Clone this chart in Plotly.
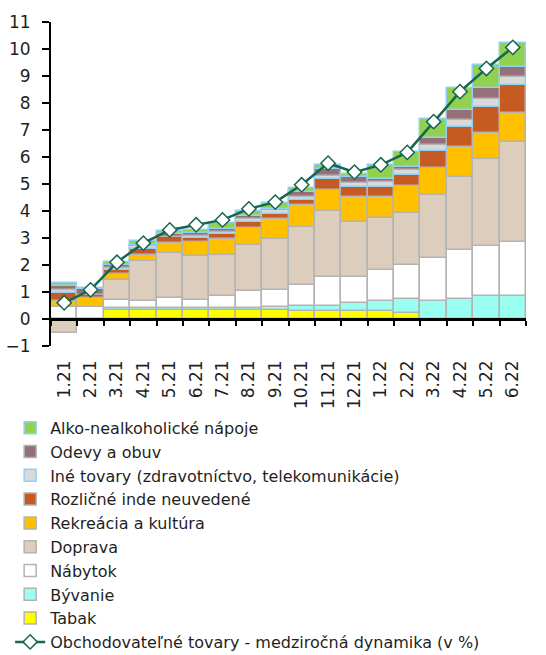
import plotly.graph_objects as go

categories = ["1.21", "2.21", "3.21", "4.21", "5.21", "6.21", "7.21", "8.21", "9.21",
              "10.21", "11.21", "12.21", "1.22", "2.22", "3.22", "4.22", "5.22", "6.22"]

tabak     = [0.00, 0.00, 0.35, 0.35, 0.35, 0.35, 0.35, 0.35, 0.35, 0.30, 0.30, 0.30, 0.30, 0.22, 0.00, 0.00, 0.00, 0.00]
byvanie   = [0.00, 0.00, 0.05, 0.05, 0.05, 0.07, 0.07, 0.07, 0.10, 0.17, 0.20, 0.28, 0.35, 0.52, 0.68, 0.74, 0.86, 0.86]
nabytok   = [0.44, 0.45, 0.30, 0.25, 0.37, 0.30, 0.43, 0.62, 0.64, 0.78, 1.05, 0.99, 1.17, 1.27, 1.58, 1.82, 1.86, 1.99]
doprava   = [-0.50, 0.00, 0.76, 1.48, 1.66, 1.60, 1.52, 1.70, 1.89, 2.16, 2.44, 2.01, 1.91, 1.91, 2.32, 2.69, 3.19, 3.69]
rekreacia = [0.21, 0.33, 0.22, 0.25, 0.37, 0.55, 0.59, 0.64, 0.74, 0.83, 0.79, 0.95, 0.78, 1.01, 1.01, 1.13, 0.99, 1.09]
rozlicne  = [0.31, 0.12, 0.12, 0.21, 0.25, 0.12, 0.18, 0.22, 0.18, 0.18, 0.41, 0.37, 0.39, 0.41, 0.62, 0.72, 0.94, 1.05]
ine       = [0.12, -0.06, 0.10, 0.10, -0.06, 0.10, 0.10, 0.12, 0.12, 0.10, 0.12, 0.15, 0.18, 0.18, 0.25, 0.27, 0.31, 0.28]
odevy     = [0.16, 0.20, 0.10, 0.06, 0.08, 0.10, 0.10, 0.08, 0.06, 0.18, 0.25, 0.22, 0.12, 0.12, 0.25, 0.37, 0.39, 0.37]
alko      = [0.10, 0.05, 0.10, 0.15, 0.12, 0.10, 0.20, 0.20, 0.20, 0.16, 0.15, 0.10, 0.49, 0.55, 0.68, 0.80, 0.86, 0.89]
dynamika  = [0.60, 1.08, 2.10, 2.81, 3.30, 3.49, 3.67, 4.08, 4.33, 4.97, 5.77, 5.44, 5.71, 6.17, 7.31, 8.42, 9.28, 10.06]

y_ticks = list(range(-1, 12))

FONT = "DejaVu Sans"
GRAY = "#b3b3b3"
LBLUE = "#8fd2f4"

series = [
    ("Tabak", tabak, "#ffff00", GRAY, 9),
    ("Bývanie", byvanie, "#99fff0", GRAY, 8),
    ("Nábytok", nabytok, "#ffffff", GRAY, 7),
    ("Doprava", doprava, "#dccdbd", GRAY, 6),
    ("Rekreácia a kultúra", rekreacia, "#ffc000", GRAY, 5),
    ("Rozličné inde neuvedené", rozlicne, "#c55a22", GRAY, 4),
    ("Iné tovary (zdravotníctvo, telekomunikácie)", ine, "#d9d9d9", LBLUE, 3),
    ("Odevy a obuv", odevy, "#957079", GRAY, 2),
    ("Alko-nealkoholické nápoje", alko, "#92d050", LBLUE, 1),
]

fig = go.Figure()
for name, vals, color, lc, rank in series:
    fig.add_trace(go.Bar(
        x=categories, y=vals, name=name, legendrank=rank,
        marker=dict(color=color, line=dict(color=lc, width=1.5)),
    ))

fig.add_trace(go.Scatter(
    x=categories, y=dynamika, name="Obchodovateľné tovary - medziročná dynamika (v %)",
    legendrank=10, xaxis="x2", mode="lines+markers",
    line=dict(color="#17664f", width=2.5),
    marker=dict(symbol="diamond", size=11, color="white", line=dict(color="#17664f", width=1.5)),
))

fig.update_layout(
    width=546, height=655,
    margin=dict(l=51, r=20, t=22, b=309, autoexpand=False),
    plot_bgcolor="white", paper_bgcolor="white",
    barmode="relative", bargap=0,
    font=dict(family=FONT, size=16, color="#1f1f1f"),
    xaxis=dict(
        type="category", categoryorder="array", categoryarray=categories,
        range=[-0.5, 17.5], showline=False, ticks="", showgrid=False, zeroline=False,
        tickangle=-90, tickfont=dict(size=17), ticklabelstandoff=10,
    ),
    xaxis2=dict(
        type="category", categoryorder="array", categoryarray=categories,
        overlaying="x", anchor="free", position=1/12, side="bottom",
        range=[-0.5, 17.5], showline=True, linecolor="black", linewidth=2.5,
        ticks="outside", tickson="boundaries", ticklen=5, tickwidth=2, tickcolor="black",
        showticklabels=False, showgrid=False, zeroline=False,
    ),
    yaxis=dict(
        range=[-1, 11], tickvals=y_ticks, showline=True, linecolor="black", linewidth=2,
        ticks="outside", ticklen=7, tickwidth=2, tickcolor="black",
        showgrid=False, zeroline=False, tickfont=dict(size=17), ticklabelstandoff=8,
    ),
    legend=dict(
        orientation="v", x=-0.086, xanchor="left", y=-0.2, yanchor="top",
        font=dict(size=16), tracegroupgap=0, itemwidth=30, bgcolor="rgba(0,0,0,0)",
        traceorder="normal",
    ),
    showlegend=True,
)

fig.write_html("out.html", config={"displayModeBar": False},
               post_script="document.body.style.margin='0';")
